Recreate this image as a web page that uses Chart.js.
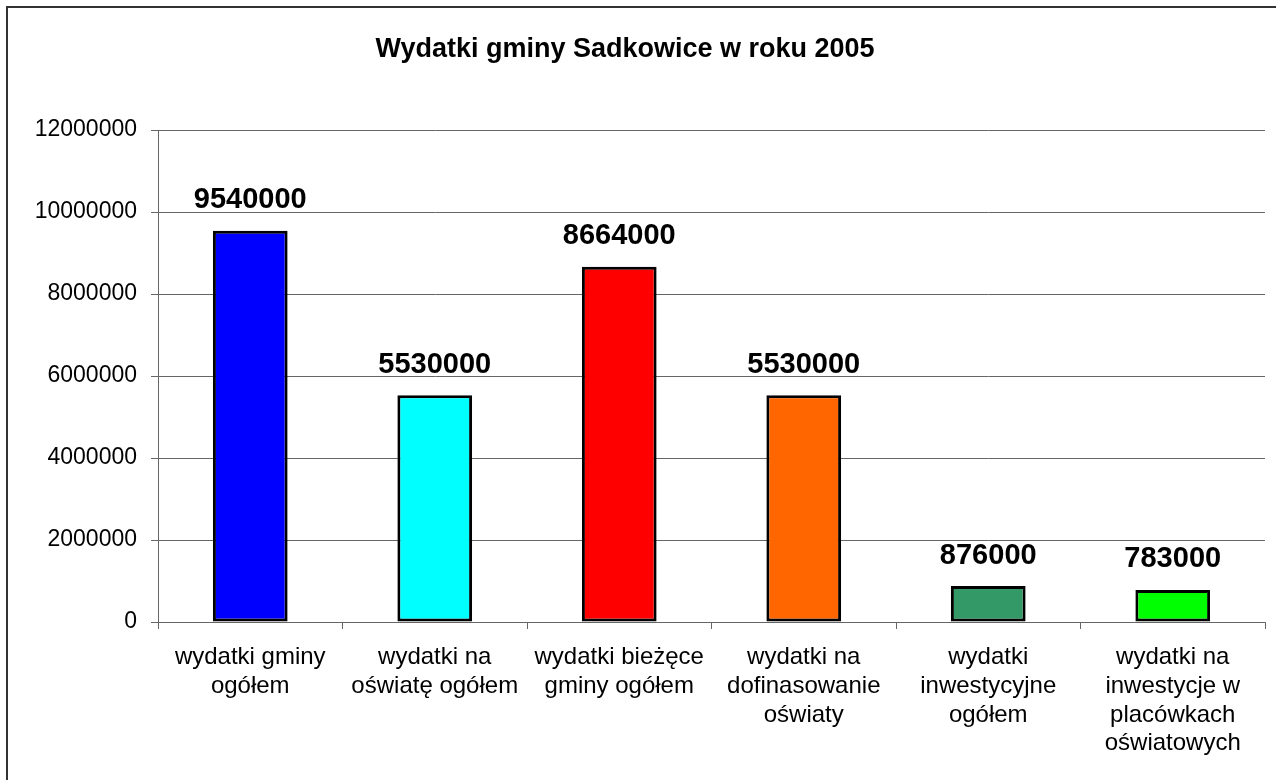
<!DOCTYPE html>
<html>
<head>
<meta charset="utf-8">
<script src="https://cdn.jsdelivr.net/npm/chart.js@4/dist/chart.umd.min.js"></script>
<style>
  html, body { margin: 0; padding: 0; background: #fff; overflow: hidden; }
  .frame { position: absolute; left: 6px; top: 6px; width: 2000px; height: 2000px; border: 2px solid #333; }
  .chart-container { position: absolute; left: 0; top: 0; width: 1276px; height: 780px; }
</style>
</head>
<body>
<div class="frame"></div>
<div class="chart-container"><canvas id="c" width="1276" height="780"></canvas></div>
<script>
const title = "Wydatki gminy Sadkowice w roku 2005";
const categories = [
  ["wydatki gminy", "ogółem"],
  ["wydatki na", "oświatę ogółem"],
  ["wydatki bieżęce", "gminy ogółem"],
  ["wydatki na", "dofinasowanie", "oświaty"],
  ["wydatki", "inwestycyjne", "ogółem"],
  ["wydatki na", "inwestycje w", "placówkach", "oświatowych"]
];
const values = [9540000, 5530000, 8664000, 5530000, 876000, 783000];
const barColors = ["#0000FF", "#00FFFF", "#FF0000", "#FF6600", "#339966", "#00FF00"];
const yMax = 12000000;
const yStep = 2000000;

const font = "'Liberation Sans', Arial, sans-serif";

// title + value labels drawn on top of the bars
const labelsPlugin = {
  id: "labels",
  afterDatasetsDraw(chart) {
    const ctx = chart.ctx;
    ctx.save();
    ctx.fillStyle = "#000";
    ctx.textAlign = "center";
    ctx.textBaseline = "alphabetic";
    ctx.font = "bold 27px " + font;
    ctx.fillText(title, 625, 57);

    ctx.font = "bold 29px " + font;
    ctx.textBaseline = "bottom";
    chart.getDatasetMeta(0).data.forEach((bar, i) => {
      ctx.fillText(String(values[i]), bar.x, bar.y - 16);
    });
    ctx.restore();
  }
};

new Chart(document.getElementById("c"), {
  type: "bar",
  data: {
    labels: categories,
    datasets: [{
      data: values,
      backgroundColor: barColors,
      borderColor: "#000",
      borderWidth: 3,
      borderSkipped: false,
      categoryPercentage: 1,
      barPercentage: 0.405
    }]
  },
  options: {
    responsive: false,
    animation: false,
    layout: { padding: { top: 130, right: 11, left: 0, bottom: 0 } },
    plugins: { legend: { display: false }, tooltip: { enabled: false } },
    scales: {
      x: {
        grid: { drawOnChartArea: false, offset: true, tickLength: 7, color: "#666", tickColor: "#666" },
        border: { color: "#666" },
        ticks: {
          color: "#000",
          font: { family: font, size: 24, lineHeight: 1.2 },
          padding: 14,
          maxRotation: 0,
          autoSkip: false
        },
        afterFit(scale) { scale.height = 780 - 622; }
      },
      y: {
        min: 0,
        max: yMax,
        grid: { color: "#666", tickLength: 7, tickColor: "#666" },
        border: { color: "#666" },
        ticks: {
          stepSize: yStep,
          color: "#000",
          font: { family: font, size: 23 },
          padding: 14,
          callback: v => String(v)
        },
        afterFit(scale) { scale.width = 158; }
      }
    }
  },
  plugins: [labelsPlugin]
});
</script>
</body>
</html>
